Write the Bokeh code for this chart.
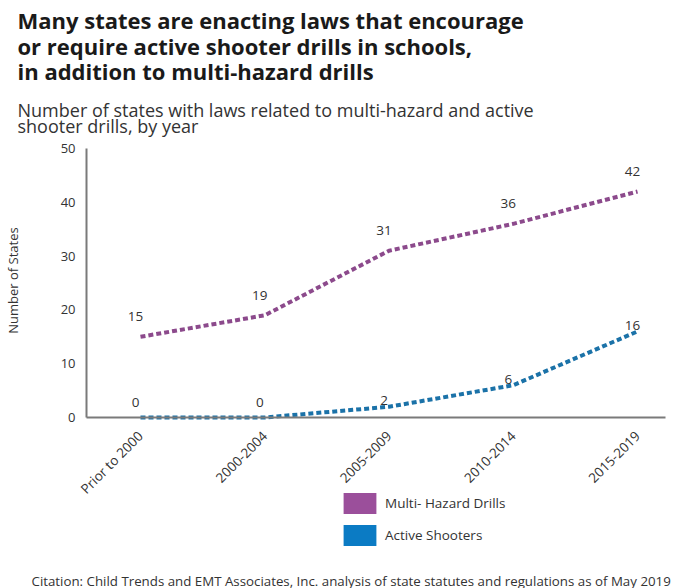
import math
from bokeh.plotting import figure
from bokeh.models import (Range1d, FixedTicker, Legend, LegendItem,
                          ColumnDataSource, Label)
from bokeh.core.properties import value
from bokeh.embed import file_html
from bokeh.resources import INLINE

# ---- data ----
categories = ["Prior to 2000", "2000-2004", "2005-2009", "2010-2014", "2015-2019"]
multi_hazard = [15, 19, 31, 36, 42]
active_shooter = [0, 0, 2, 6, 16]
y_ticks = [0, 10, 20, 30, 40, 50]
series_names = ["Multi- Hazard Drills", "Active Shooters"]

title_lines = ["Many states are enacting laws that encourage",
               "or require active shooter drills in schools,",
               "in addition to multi-hazard drills"]
subtitle_lines = ["Number of states with laws related to multi-hazard and active",
                  "shooter drills, by year"]
y_label = "Number of States"
citation = ("Citation: Child Trends and EMT Associates, Inc. analysis of state "
            "statutes and regulations as of May 2019")

# ---- styles ----
FONT = "Open Sans"
PURPLE_LINE = "#8c4a8c"
BLUE_LINE = "#1b72a8"
PURPLE_KEY = "#9b4f9b"
BLUE_KEY = "#0b7bc4"
TXT = "#333333"
W, H = 700, 588

xs = list(range(len(categories)))

# The plotting frame covers the whole canvas; both axes are pinned with
# fixed_location so nothing outside the chart body gets clipped.
p = figure(width=W, height=H, output_backend="svg", toolbar_location=None,
           title=None,
           x_range=Range1d(-1.12676, 4.50704), y_range=Range1d(-31.784, 77.509),
           min_border=0)
p.outline_line_color = None
p.grid.visible = False
p.background_fill_color = "white"
p.border_fill_color = "white"

# axes
p.xaxis.ticker = FixedTicker(ticks=xs)
p.xaxis.major_label_overrides = {i: c for i, c in zip(xs, categories)}
p.xaxis.major_label_orientation = math.pi / 4
p.xaxis.fixed_location = 0
p.xaxis.bounds = (-0.43461, 4.22535)
p.yaxis.ticker = FixedTicker(ticks=y_ticks)
p.yaxis.fixed_location = -0.43461
p.yaxis.bounds = (0, 50)
for ax in (p.xaxis, p.yaxis):
    ax.axis_line_color = "#7a7a7a"
    ax.axis_line_width = 2
    ax.major_tick_line_color = None
    ax.minor_tick_line_color = None
    ax.major_label_text_font = FONT
    ax.major_label_text_color = TXT
p.xaxis.major_label_text_font_size = "13.5px"
p.yaxis.major_label_text_font_size = "13px"
p.xaxis.major_label_standoff = 10
p.yaxis.major_label_standoff = 5

# lines
p.line(xs, multi_hazard, line_color=PURPLE_LINE, line_width=4, line_dash="5 3")
p.line(xs, active_shooter, line_color=BLUE_LINE, line_width=4, line_dash="5 3")

# value labels
src_m = ColumnDataSource(dict(x=xs, y=multi_hazard,
                              t=[str(v) for v in multi_hazard]))
p.text(x="x", y="y", text="t", source=src_m, text_font=value(FONT),
       text_font_size="13.5px", text_color=TXT, text_align="center",
       text_baseline="middle", x_offset=-5, y_offset=-20)
src_a = ColumnDataSource(dict(x=xs, y=active_shooter,
                              t=[str(v) for v in active_shooter],
                              yo=[-15 if v == 0 else -6 for v in active_shooter]))
p.text(x="x", y="y", text="t", source=src_a, text_font=value(FONT),
       text_font_size="13.5px", text_color=TXT, text_align="center",
       text_baseline="middle", x_offset=-5, y_offset="yo")

# legend (square keys); hidden bar renderers only supply the key glyphs
r_m = p.vbar(x=xs, top=multi_hazard, width=0.5, fill_color=PURPLE_KEY,
             line_color=None, visible=False)
r_a = p.vbar(x=xs, top=active_shooter, width=0.5, fill_color=BLUE_KEY,
             line_color=None, visible=False)
legend = Legend(items=[LegendItem(label=series_names[0], renderers=[r_m]),
                       LegendItem(label=series_names[1], renderers=[r_a])],
                location=(339, 39.6), glyph_width=41, glyph_height=26,
                spacing=6, padding=0, margin=0, label_standoff=5,
                border_line_color=None, background_fill_alpha=0,
                inactive_fill_alpha=0,
                label_text_font=FONT, label_text_font_size="13.5px",
                label_text_color=TXT, label_text_baseline="middle")
p.add_layout(legend)

# texts (screen units: origin at the bottom-left of the canvas)
def add_text(x, y, text, size, style="normal", color=TXT, angle=0,
             align="left", baseline="alphabetic"):
    p.add_layout(Label(x=x, y=y, x_units="screen", y_units="screen",
                       text=text, text_font=FONT, text_font_size=size,
                       text_font_style=style, text_color=color, angle=angle,
                       text_align=align, text_baseline=baseline))

for i, line in enumerate(title_lines):
    add_text(17, H - 19.5 - 25.5 * i, line, "22px", style="bold",
             color="#1a1a1a")
for i, line in enumerate(subtitle_lines):
    add_text(17, H - 109 - 16.5 * i, line, "18px")
add_text(12.5, H - 280, y_label, "13px", angle=math.pi / 2, align="center",
         baseline="middle")
add_text(31, H - 580, citation, "13.3px")

open("out.html", "w").write(file_html(p, INLINE))
